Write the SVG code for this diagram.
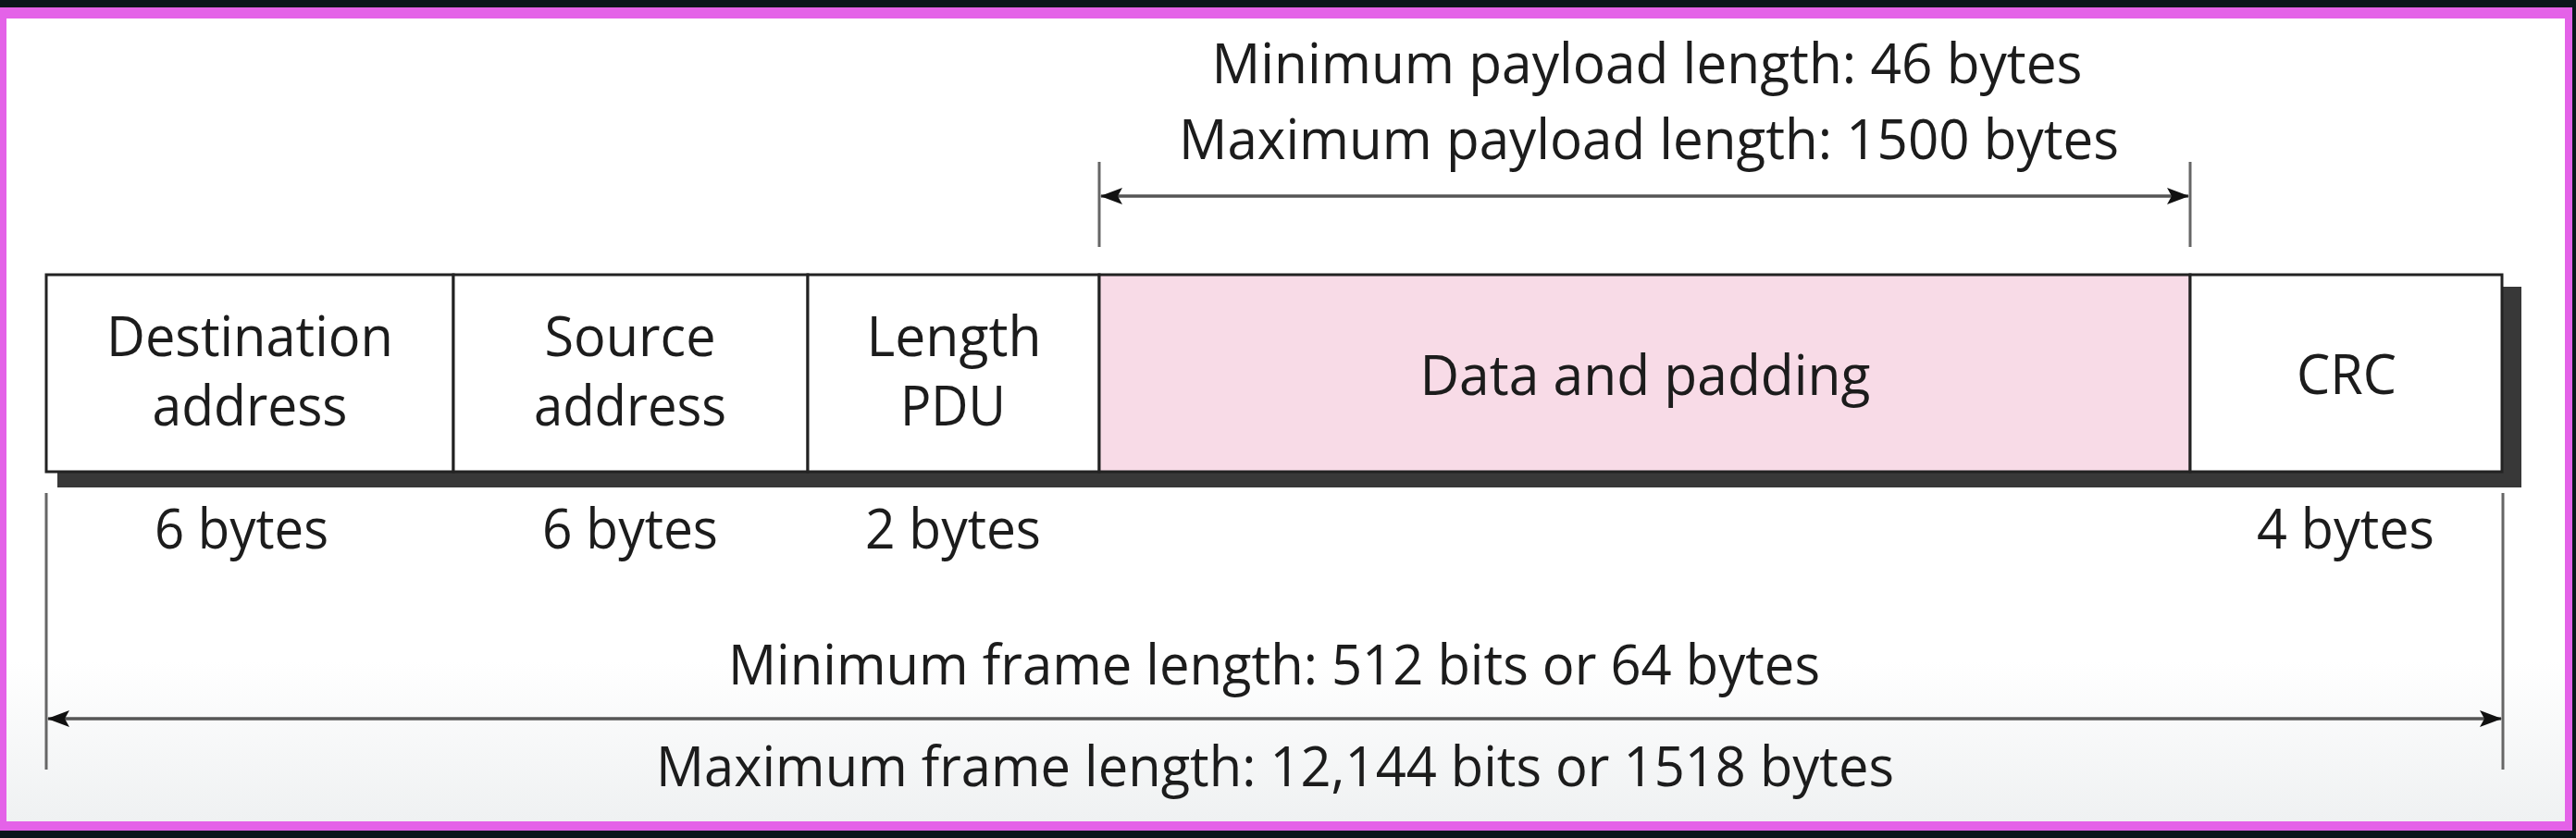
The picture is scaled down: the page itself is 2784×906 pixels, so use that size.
<svg xmlns="http://www.w3.org/2000/svg" width="2784" height="906" viewBox="0 0 2784 906">
  <defs>
    <linearGradient id="bg" x1="0" y1="0" x2="0" y2="1">
      <stop offset="0" stop-color="#ffffff"/>
      <stop offset="0.8" stop-color="#ffffff"/>
      <stop offset="1" stop-color="#eff1f2"/>
    </linearGradient>
    <marker id="ah" viewBox="0 0 24 18" refX="23" refY="9" markerWidth="24" markerHeight="18" markerUnits="userSpaceOnUse" orient="auto-start-reverse">
      <path d="M0,0 L24,9 L0,18 L5,9 Z" fill="#111"/>
    </marker>
    <style>
      text { font-family: "Open Sans", "Noto Sans", "Liberation Sans", sans-serif; font-size: 60px; fill: #1c1c1c; text-anchor: middle; }
      .field { fill: #ffffff; stroke: #222; stroke-width: 3; }
      .data { fill: #f8dbe7; stroke: #222; stroke-width: 3; }
      .shadow { fill: #383838; }
      .dim { stroke: #555; stroke-width: 3.5; fill: none; }
      .tick { stroke: #666; stroke-width: 3; fill: none; }
    </style>
  </defs>

  <!-- frame / background -->
  <rect x="0" y="0" width="2784" height="906" fill="#0b161b"/>
  <rect x="0" y="8" width="2780" height="890" fill="#e462e8"/>
  <rect x="7" y="20" width="2765" height="868" fill="url(#bg)"/>

  <!-- shadow of frame -->
  <rect class="shadow" x="62" y="310" width="2663" height="217"/>

  <g id="dest">
    <rect class="field" x="50" y="297" width="440" height="213"/>
    <text x="270" y="385" textLength="310" lengthAdjust="spacingAndGlyphs">Destination</text>
    <text x="270" y="460" textLength="211" lengthAdjust="spacingAndGlyphs">address</text>
    <text x="261" y="593" textLength="188" lengthAdjust="spacingAndGlyphs">6 bytes</text>
  </g>
  <g id="source">
    <rect class="field" x="490" y="297" width="383" height="213"/>
    <text x="681" y="385" textLength="185" lengthAdjust="spacingAndGlyphs">Source</text>
    <text x="681" y="460" textLength="208" lengthAdjust="spacingAndGlyphs">address</text>
    <text x="681" y="593" textLength="190" lengthAdjust="spacingAndGlyphs">6 bytes</text>
  </g>
  <g id="length">
    <rect class="field" x="873" y="297" width="315" height="213"/>
    <text x="1031" y="385" textLength="189" lengthAdjust="spacingAndGlyphs">Length</text>
    <text x="1030" y="460" textLength="114" lengthAdjust="spacingAndGlyphs">PDU</text>
    <text x="1030" y="593" textLength="190" lengthAdjust="spacingAndGlyphs">2 bytes</text>
  </g>
  <g id="data">
    <rect class="data" x="1188" y="297" width="1179" height="213"/>
    <text x="1778" y="427" textLength="487" lengthAdjust="spacingAndGlyphs">Data and padding</text>
  </g>
  <g id="crc">
    <rect class="field" x="2367" y="297" width="337" height="213"/>
    <text x="2536" y="426" textLength="108" lengthAdjust="spacingAndGlyphs">CRC</text>
    <text x="2535" y="593" textLength="192" lengthAdjust="spacingAndGlyphs">4 bytes</text>
  </g>

  <g id="connectors">
    <line class="tick" x1="1188" y1="175" x2="1188" y2="267"/>
    <line class="tick" x1="2367" y1="175" x2="2367" y2="267"/>
    <line class="dim" x1="1190" y1="212" x2="2365" y2="212" marker-start="url(#ah)" marker-end="url(#ah)"/>
    <line class="tick" x1="50" y1="533" x2="50" y2="832"/>
    <line class="tick" x1="2705" y1="533" x2="2705" y2="832"/>
    <line class="dim" x1="52" y1="777" x2="2703" y2="777" marker-start="url(#ah)" marker-end="url(#ah)"/>
  </g>

  <g id="payload-labels">
    <text x="1780" y="90" textLength="941" lengthAdjust="spacingAndGlyphs">Minimum payload length: 46 bytes</text>
    <text x="1782" y="172" textLength="1016" lengthAdjust="spacingAndGlyphs">Maximum payload length: 1500 bytes</text>
  </g>
  <g id="frame-labels">
    <text x="1377" y="740" textLength="1180" lengthAdjust="spacingAndGlyphs">Minimum frame length: 512 bits or 64 bytes</text>
    <text x="1378" y="850" textLength="1338" lengthAdjust="spacingAndGlyphs">Maximum frame length: 12,144 bits or 1518 bytes</text>
  </g>
</svg>
